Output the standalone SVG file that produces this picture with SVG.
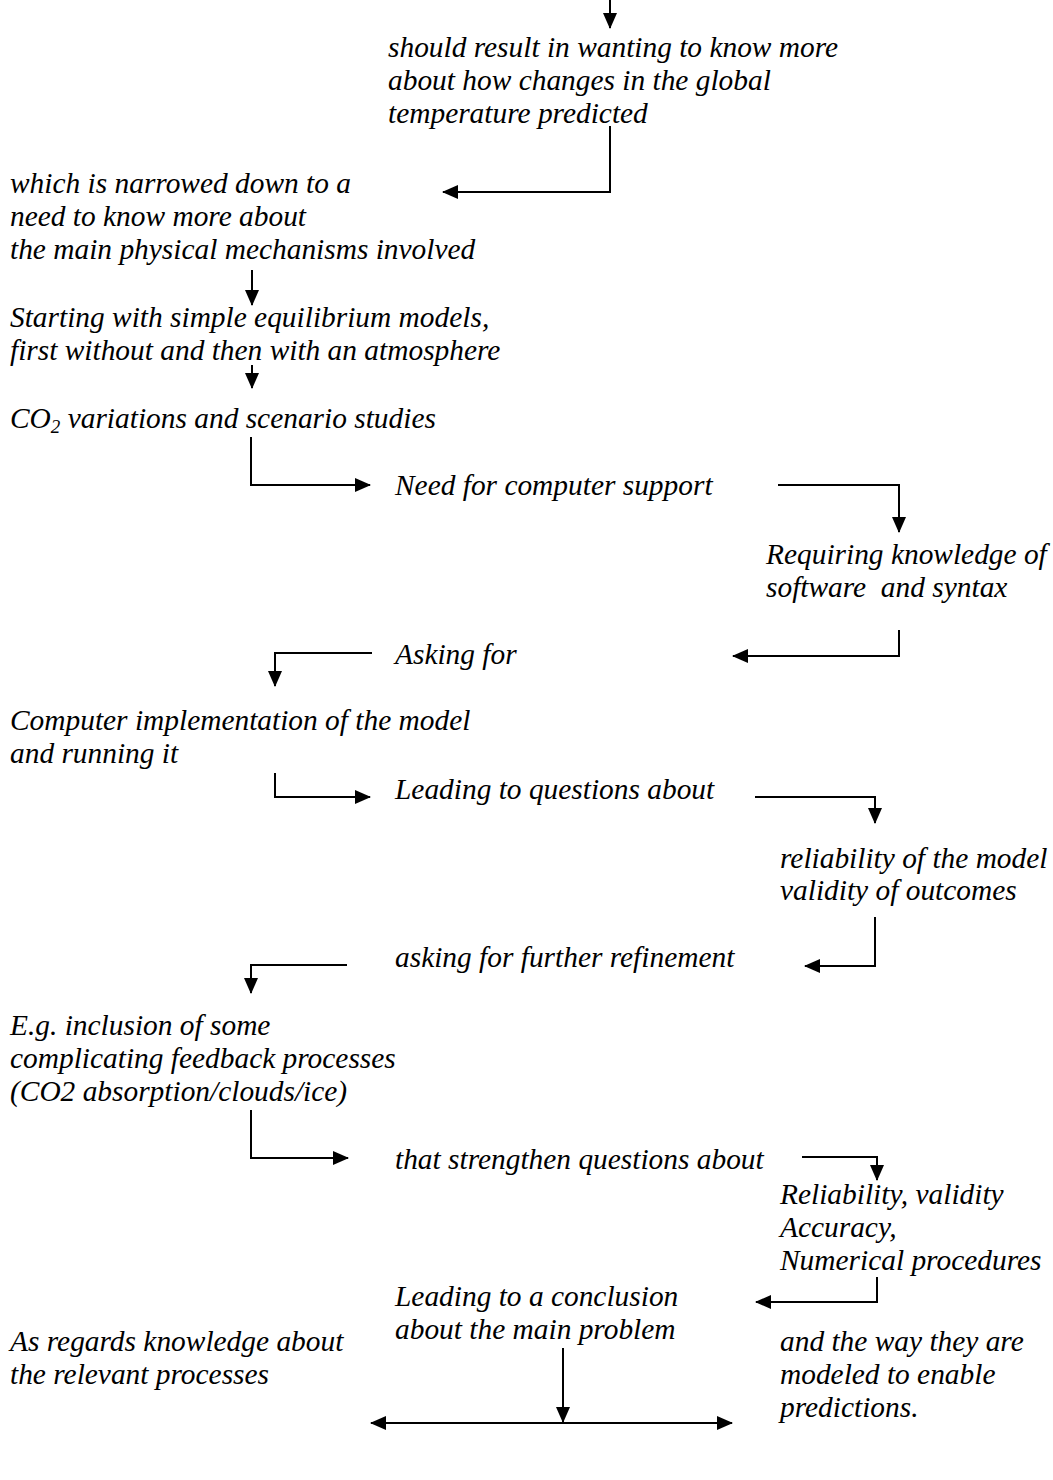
<svg xmlns="http://www.w3.org/2000/svg" width="1053" height="1480" viewBox="0 0 1053 1480">
<defs>
<style>
text{font-family:"Liberation Serif","Times New Roman",serif;font-style:italic;font-size:29.4px;fill:#000;white-space:pre}
.c path{fill:none;stroke:#000;stroke-width:2}
</style>
<marker id="ah" viewBox="0 0 16 14" refX="15" refY="7" markerWidth="16" markerHeight="14" markerUnits="userSpaceOnUse" orient="auto-start-reverse">
<path d="M0,0 L16,7 L0,14 Z" fill="#000"/>
</marker>
</defs>
<rect width="1053" height="1480" fill="#fff"/>
<g class="c" id="connectors">
<path d="M610,0 V28" marker-end="url(#ah)"/>
<path d="M610,126 V192 H443" marker-end="url(#ah)"/>
<path d="M252,270 V305" marker-end="url(#ah)"/>
<path d="M252,365 V388" marker-end="url(#ah)"/>
<path d="M251,437 V485 H370" marker-end="url(#ah)"/>
<path d="M778,485 H899 V532" marker-end="url(#ah)"/>
<path d="M899,630 V656 H733" marker-end="url(#ah)"/>
<path d="M372,653 H275 V686" marker-end="url(#ah)"/>
<path d="M275,773 V797 H370" marker-end="url(#ah)"/>
<path d="M755,797 H875 V823" marker-end="url(#ah)"/>
<path d="M875,917 V966 H805" marker-end="url(#ah)"/>
<path d="M347,965 H251 V993" marker-end="url(#ah)"/>
<path d="M251,1110 V1158 H348" marker-end="url(#ah)"/>
<path d="M802,1157 H877 V1180" marker-end="url(#ah)"/>
<path d="M877,1277 V1302 H756" marker-end="url(#ah)"/>
<path d="M563,1348 V1422" marker-end="url(#ah)"/>
<path d="M371,1423 H732" marker-start="url(#ah)" marker-end="url(#ah)"/>
</g>
<g id="n1"><text x="388" y="57">should result in wanting to know more</text><text x="388" y="90">about how changes in the global</text><text x="388" y="123">temperature predicted</text></g>
<g id="n2"><text x="10" y="193">which is narrowed down to a</text><text x="10" y="226">need to know more about</text><text x="10" y="259">the main physical mechanisms involved</text></g>
<g id="n3"><text x="10" y="327">Starting with simple equilibrium models,</text><text x="10" y="360">first without and then with an atmosphere</text></g>
<g id="n4"><text x="10" y="428">CO<tspan font-size="19" dy="5">2</tspan><tspan dy="-5"> variations and scenario studies</tspan></text></g>
<g id="n5"><text x="395" y="495">Need for computer support</text></g>
<g id="n6"><text x="766" y="564">Requiring knowledge of</text><text x="766" y="597">software  and syntax</text></g>
<g id="n7"><text x="395" y="664">Asking for</text></g>
<g id="n8"><text x="10" y="730">Computer implementation of the model</text><text x="10" y="763">and running it</text></g>
<g id="n9"><text x="395" y="799">Leading to questions about</text></g>
<g id="n10"><text x="780" y="868">reliability of the model</text><text x="780" y="900">validity of outcomes</text></g>
<g id="n11"><text x="395" y="967">asking for further refinement</text></g>
<g id="n12"><text x="10" y="1035">E.g. inclusion of some</text><text x="10" y="1068">complicating feedback processes</text><text x="10" y="1101">(CO2 absorption/clouds/ice)</text></g>
<g id="n13"><text x="395" y="1169">that strengthen questions about</text></g>
<g id="n14"><text x="780" y="1204">Reliability, validity</text><text x="780" y="1237">Accuracy,</text><text x="780" y="1270">Numerical procedures</text></g>
<g id="n15"><text x="395" y="1306">Leading to a conclusion</text><text x="395" y="1339">about the main problem</text></g>
<g id="n16"><text x="10" y="1351">As regards knowledge about</text><text x="10" y="1384">the relevant processes</text></g>
<g id="n17"><text x="780" y="1351">and the way they are</text><text x="780" y="1384">modeled to enable</text><text x="780" y="1417">predictions.</text></g>
</svg>
